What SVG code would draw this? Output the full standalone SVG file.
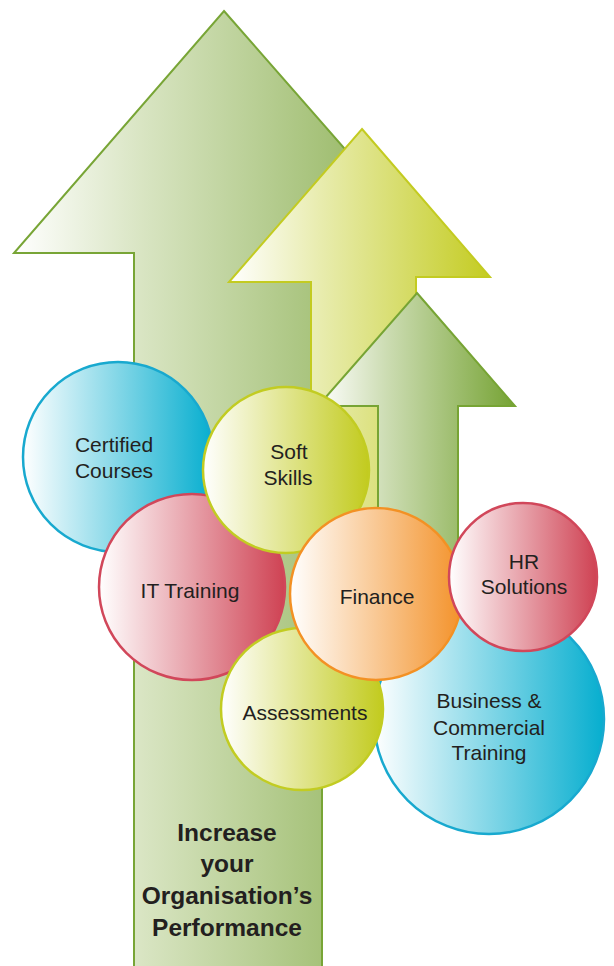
<svg xmlns="http://www.w3.org/2000/svg" width="614" height="966" viewBox="0 0 614 966">
<defs>
<linearGradient id="gBig" gradientUnits="userSpaceOnUse" x1="14" y1="0" x2="436" y2="0">
<stop offset="0" stop-color="#ffffff"/><stop offset="0.3" stop-color="#d9e5c3"/><stop offset="1" stop-color="#86ac4c"/>
</linearGradient>
<linearGradient id="gYel" gradientUnits="userSpaceOnUse" x1="229" y1="0" x2="490" y2="0">
<stop offset="0" stop-color="#ffffff"/><stop offset="0.35" stop-color="#e8ecae"/><stop offset="1" stop-color="#c4cc22"/>
</linearGradient>
<linearGradient id="gGrn" gradientUnits="userSpaceOnUse" x1="318" y1="0" x2="515" y2="0">
<stop offset="0" stop-color="#ffffff"/><stop offset="0.35" stop-color="#ccdcb2"/><stop offset="1" stop-color="#76a334"/>
</linearGradient>
<linearGradient id="gBlue" x1="0" y1="0" x2="1" y2="0">
<stop offset="0" stop-color="#ffffff"/><stop offset="1" stop-color="#06aecf"/>
</linearGradient>
<linearGradient id="gRed" x1="0" y1="0" x2="1" y2="0">
<stop offset="0" stop-color="#ffffff"/><stop offset="1" stop-color="#cf4253"/>
</linearGradient>
<linearGradient id="gLime" x1="0" y1="0" x2="1" y2="0">
<stop offset="0" stop-color="#ffffff"/><stop offset="1" stop-color="#c2cb1e"/>
</linearGradient>
<linearGradient id="gOrange" x1="0" y1="0" x2="1" y2="0">
<stop offset="0" stop-color="#ffffff"/><stop offset="1" stop-color="#f3922a"/>
</linearGradient>
</defs>
<style>
.blue{fill:url(#gBlue);stroke:#18a9cf;stroke-width:2.5}
.red{fill:url(#gRed);stroke:#d1475a;stroke-width:2.5}
.lime{fill:url(#gLime);stroke:#c2cc22;stroke-width:2.5}
.orange{fill:url(#gOrange);stroke:#f39124;stroke-width:2.5}
.lbl{font-family:"Liberation Sans",Arial,sans-serif;font-size:21px;fill:#231f20;text-anchor:middle}
.big{font-family:"Liberation Sans",Arial,sans-serif;font-size:24.5px;font-weight:bold;fill:#231f20;text-anchor:middle}
</style>
<g id="arrows">
<polygon id="arrow-big" points="224,11 436,253 322,253 322,975 134,975 134,253 14,253" fill="url(#gBig)" stroke="#78a536" stroke-width="2"/>
<polygon id="arrow-yellow" points="362,129 490,277 416,277 416,560 311,560 311,282 229,282" fill="url(#gYel)" stroke="#c3cb21" stroke-width="2"/>
<polygon id="arrow-green" points="417,293 515,406 458,406 458,700 378,700 378,406 318,406" fill="url(#gGrn)" stroke="#77a434" stroke-width="2"/>
</g>
<g id="certified-courses">
<circle class="blue" cx="118" cy="457" r="95"/>
<text class="lbl" x="114" y="452">Certified</text>
<text class="lbl" x="114" y="478">Courses</text>
</g>
<g id="it-training">
<circle class="red" cx="192" cy="587" r="93"/>
<text class="lbl" x="190" y="598">IT Training</text>
</g>
<g id="soft-skills">
<circle class="lime" cx="286" cy="470" r="83"/>
<text class="lbl" x="289" y="459">Soft</text>
<text class="lbl" x="288" y="485">Skills</text>
</g>
<g id="business-commercial-training">
<circle class="blue" cx="489" cy="719" r="115"/>
<text class="lbl" x="489" y="708">Business &amp;</text>
<text class="lbl" x="489" y="735">Commercial</text>
<text class="lbl" x="489" y="760">Training</text>
</g>
<g id="assessments">
<circle class="lime" cx="302" cy="709" r="81"/>
<text class="lbl" x="305" y="720">Assessments</text>
</g>
<g id="finance">
<circle class="orange" cx="376" cy="594" r="86"/>
<text class="lbl" x="377" y="604">Finance</text>
</g>
<g id="hr-solutions">
<circle class="red" cx="523" cy="577" r="74"/>
<text class="lbl" x="524" y="569">HR</text>
<text class="lbl" x="524" y="594">Solutions</text>
</g>
<g id="title">
<text class="big" x="227" y="841">Increase</text>
<text class="big" x="227" y="872">your</text>
<text class="big" x="227" y="904">Organisation’s</text>
<text class="big" x="227" y="936">Performance</text>
</g>
</svg>
